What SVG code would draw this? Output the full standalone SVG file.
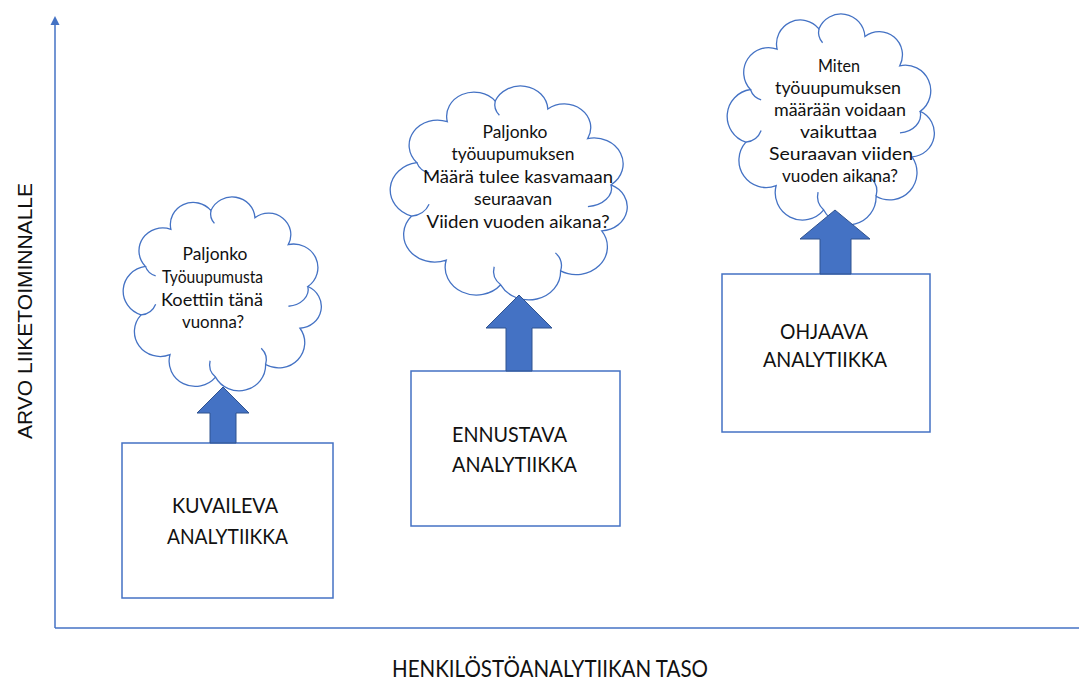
<svg xmlns="http://www.w3.org/2000/svg" width="1079" height="680" viewBox="0 0 1079 680">
  <style>
    .axis { stroke: #4472C4; stroke-width: 1.5; fill: none; }
    .box { fill: #ffffff; stroke: #4472C4; stroke-width: 1.5; }
    .cloud { fill: #ffffff; stroke: #4472C4; stroke-width: 1.3; vector-effect: non-scaling-stroke; }
    .crease { fill: none; stroke: #4472C4; stroke-width: 1.3; vector-effect: non-scaling-stroke; }
    .block { fill: #4472C4; stroke: #2F528F; stroke-width: 1; }
    .q { font-family: Lato, "Open Sans", sans-serif; font-size: 17px; fill: #111111; text-anchor: middle; }
    .lbl { font-family: Lato, "Open Sans", sans-serif; font-size: 21px; fill: #111111; }
    .ax { font-family: Lato, "Open Sans", sans-serif; font-size: 23px; fill: #111111; text-anchor: middle; }
    .ay { font-family: "Liberation Sans", Arial, sans-serif; font-size: 21px; fill: #111111; text-anchor: middle; }
  </style>
  <defs>
    <!-- scalloped cloud outline in a 0..100 box, plus interior creases -->
    <g id="cloudShape">
      <path class="cloud" d="M 12.3 60.1 A 11.9 11.9 0 0 1 14.3 37 A 10.9 10.9 0 0 1 26 19.3 A 10.5 10.5 0 0 1 44.4 10.4 A 10.5 10.5 0 0 1 64.6 13.8 A 10.2 10.2 0 0 1 79.9 26.6 A 11.2 11.2 0 0 1 88.9 46.6 A 10.4 10.4 0 0 1 85.3 66.5 A 12 12 0 0 1 69.5 83.8 A 12.2 12.2 0 0 1 46.5 89.8 A 12 12 0 0 1 25.6 79.1 A 11.9 11.9 0 0 1 12.3 60.1 Z"/>
      <path class="crease" d="M 88.9 46.6 A 10 8 0 0 1 80 56"/>
      <path class="crease" d="M 12.3 60.1 A 8 8 0 0 0 19 55"/>
      <path class="crease" d="M 46.5 89.8 A 8 8 0 0 1 44 82"/>
      <path class="crease" d="M 69.5 83.8 A 8 8 0 0 0 67.5 76"/>
      <path class="crease" d="M 44.4 10.4 A 7 7 0 0 0 46 16.5"/>
      <path class="crease" d="M 14.3 37 A 7 7 0 0 0 19 41.5"/>
    </g>
  </defs>

  <rect width="1079" height="680" fill="#ffffff"/>

  <!-- axes -->
  <g id="axes">
    <line class="axis" x1="55" y1="628" x2="55" y2="24"/>
    <polygon points="55,16 50.5,25 59.5,25" fill="#4472C4"/>
    <line class="axis" x1="55" y1="628" x2="1079" y2="628"/>
    <text class="ay" transform="translate(32,311) rotate(-90)">ARVO LIIKETOIMINNALLE</text>
    <text class="ax" x="550" y="677" textLength="316" lengthAdjust="spacingAndGlyphs">HENKILÖSTÖANALYTIIKAN TASO</text>
  </g>

  <!-- question clouds -->
  <g id="cloud-kuvaileva">
    <use href="#cloudShape" transform="translate(114.3,188.8) scale(2.177,2.097)"/>
    <text class="q" x="215" y="260" textLength="65" lengthAdjust="spacingAndGlyphs">Paljonko</text>
    <text class="q" x="212.5" y="283" textLength="101" lengthAdjust="spacingAndGlyphs">Työuupumusta</text>
    <text class="q" x="212" y="306" textLength="102" lengthAdjust="spacingAndGlyphs">Koettiin tänä</text>
    <text class="q" x="213" y="328" textLength="62" lengthAdjust="spacingAndGlyphs">vuonna?</text>
  </g>
  <g id="cloud-ennustava">
    <use href="#cloudShape" transform="translate(379.6,77) scale(2.604,2.314)"/>
    <text class="q" x="515" y="138" textLength="65" lengthAdjust="spacingAndGlyphs">Paljonko</text>
    <text class="q" x="513" y="160" textLength="123" lengthAdjust="spacingAndGlyphs">työuupumuksen</text>
    <text class="q" x="518" y="183" textLength="190" lengthAdjust="spacingAndGlyphs">Määrä tulee kasvamaan</text>
    <text class="q" x="513" y="205" textLength="78" lengthAdjust="spacingAndGlyphs">seuraavan</text>
    <text class="q" x="518" y="228" textLength="183" lengthAdjust="spacingAndGlyphs">Viiden vuoden aikana?</text>
  </g>
  <g id="cloud-ohjaava">
    <use href="#cloudShape" transform="translate(717.9,5.1) scale(2.276,2.281)"/>
    <text class="q" x="839" y="72" textLength="42" lengthAdjust="spacingAndGlyphs">Miten</text>
    <text class="q" x="838" y="94" textLength="126" lengthAdjust="spacingAndGlyphs">työuupumuksen</text>
    <text class="q" x="840" y="116" textLength="132" lengthAdjust="spacingAndGlyphs">määrään voidaan</text>
    <text class="q" x="838.5" y="138" textLength="77" lengthAdjust="spacingAndGlyphs">vaikuttaa</text>
    <text class="q" x="841" y="160" textLength="144" lengthAdjust="spacingAndGlyphs">Seuraavan viiden</text>
    <text class="q" x="840" y="182" textLength="116" lengthAdjust="spacingAndGlyphs">vuoden aikana?</text>
  </g>

  <!-- analytics level boxes -->
  <g id="box-kuvaileva">
    <rect class="box" x="122" y="443" width="211" height="155"/>
    <text class="lbl" x="225" y="513" text-anchor="middle" textLength="106" lengthAdjust="spacingAndGlyphs">KUVAILEVA</text>
    <text class="lbl" x="227.5" y="544" text-anchor="middle" textLength="121" lengthAdjust="spacingAndGlyphs">ANALYTIIKKA</text>
  </g>
  <g id="box-ennustava">
    <rect class="box" x="411" y="371" width="209" height="155"/>
    <text class="lbl" x="452" y="442" textLength="115" lengthAdjust="spacingAndGlyphs">ENNUSTAVA</text>
    <text class="lbl" x="452" y="472" textLength="125" lengthAdjust="spacingAndGlyphs">ANALYTIIKKA</text>
  </g>
  <g id="box-ohjaava">
    <rect class="box" x="722" y="274" width="208" height="158"/>
    <text class="lbl" x="824" y="339" text-anchor="middle" textLength="88" lengthAdjust="spacingAndGlyphs">OHJAAVA</text>
    <text class="lbl" x="825" y="367" text-anchor="middle" textLength="124" lengthAdjust="spacingAndGlyphs">ANALYTIIKKA</text>
  </g>

  <!-- block arrows from each box up to its question -->
  <g id="connectors">
    <polygon class="block" points="223,387 249,413 236,413 236,443 210,443 210,413 197,413"/>
    <polygon class="block" points="519,295 552,328 532,328 532,371 506,371 506,328 486,328"/>
    <polygon class="block" points="835,210 870,239 851,239 851,274 820,274 820,239 800,239"/>
  </g>
</svg>
